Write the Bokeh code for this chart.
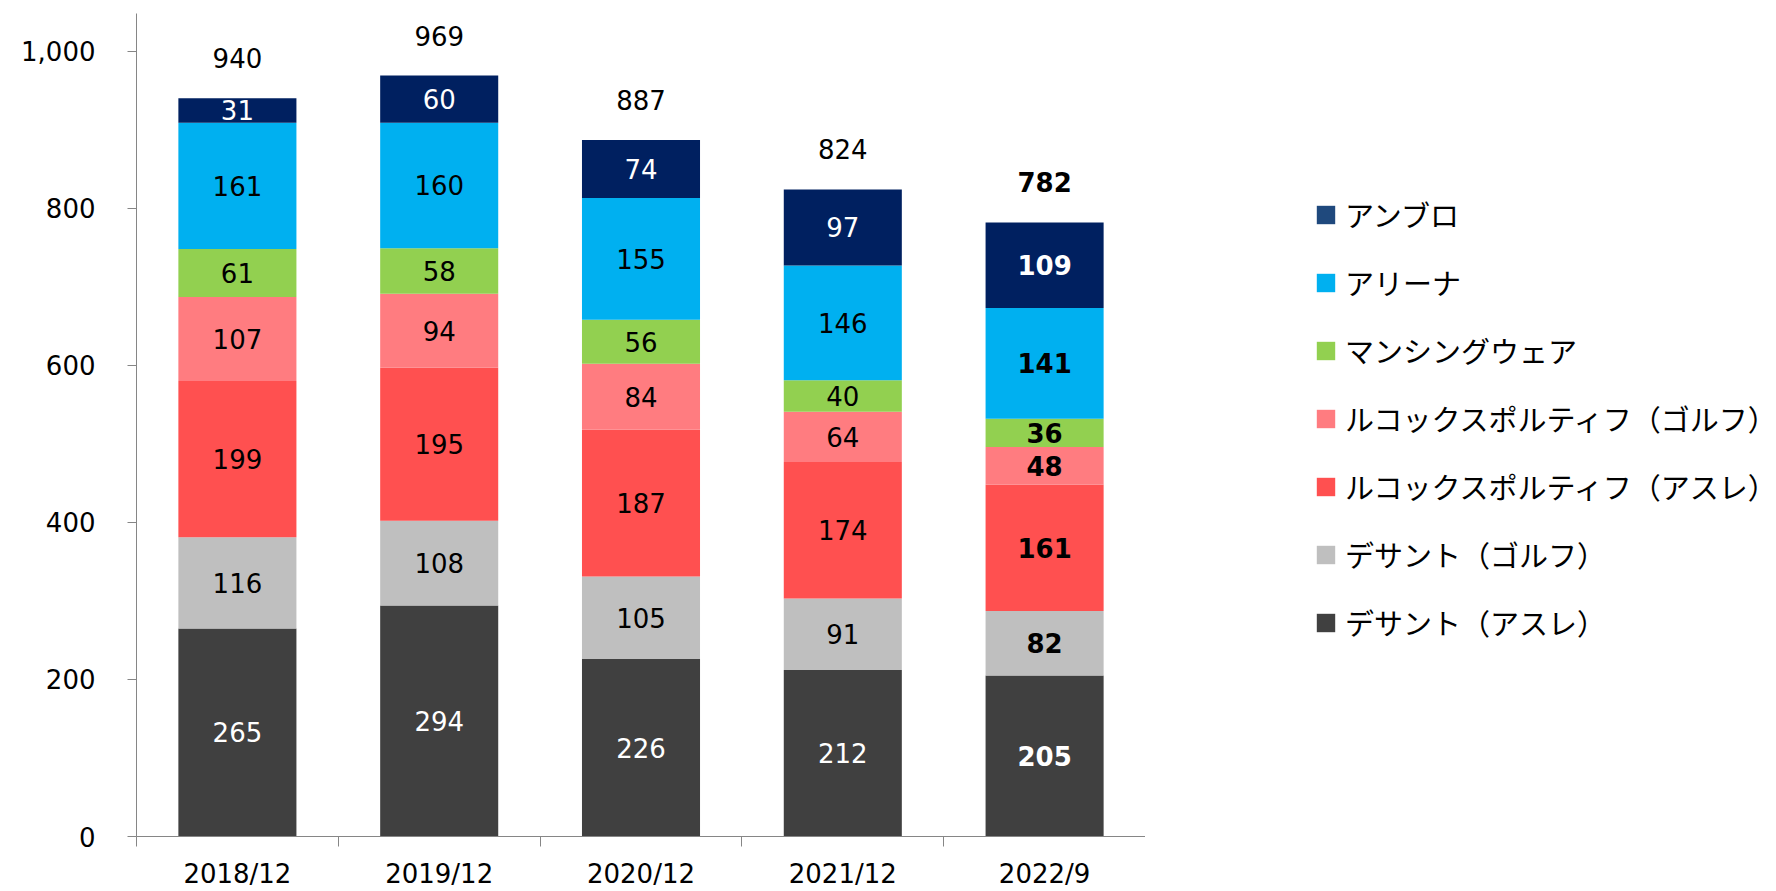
import numpy as np
from bokeh.plotting import figure
from bokeh.layouts import row
from bokeh.models import (ColumnDataSource, Range1d, FixedTicker, NumeralTickFormatter,
                          Legend, LegendItem)
from bokeh.core.properties import value
from bokeh.embed import file_html
from bokeh.resources import INLINE

categories = ["2018/12", "2019/12", "2020/12", "2021/12", "2022/9"]
series_names = ["デサント（アスレ）", "デサント（ゴルフ）", "ルコックスポルティフ（アスレ）",
                "ルコックスポルティフ（ゴルフ）", "マンシングウェア", "アリーナ", "アンブロ"]
descente_athle = [265, 294, 226, 212, 205]
descente_golf = [116, 108, 105, 91, 82]
lecoq_athle = [199, 195, 187, 174, 161]
lecoq_golf = [107, 94, 84, 64, 48]
munsingwear = [61, 58, 56, 40, 36]
arena = [161, 160, 155, 146, 141]
umbro = [31, 60, 74, 97, 109]
totals = [940, 969, 887, 824, 782]
y_ticks = [0, 200, 400, 600, 800, 1000]

series_values = [descente_athle, descente_golf, lecoq_athle, lecoq_golf, munsingwear, arena, umbro]
bar_colors = ["#404040", "#BFBFBF", "#FF5050", "#FF7C80", "#92D050", "#00B0F0", "#002060"]
legend_colors = ["#404040", "#BFBFBF", "#FF5050", "#FF7C80", "#92D050", "#00B0F0", "#1F497D"]
label_colors = ["#FFFFFF", "#000000", "#000000", "#000000", "#000000", "#000000", "#FFFFFF"]

NUM_FONT = "DejaVu Sans"
JP_FONT = "Noto Sans CJK JP"

p = figure(width=1145, height=891, output_backend="svg", toolbar_location=None,
           x_range=Range1d(-0.5, 4.5), y_range=Range1d(0, 1048),
           min_border_left=136, min_border_top=13, min_border_bottom=55, min_border_right=0)
p.outline_line_color = None
p.grid.visible = False
p.background_fill_color = "white"

xs = list(range(len(categories)))
bottom = np.zeros(len(categories))
bar_w = 0.585
for vals, col, lcol in zip(series_values, bar_colors, label_colors):
    v = np.array(vals, dtype=float)
    top = bottom + v
    src = ColumnDataSource(dict(
        x=xs, bottom=bottom.copy(), top=top.copy(), mid=(bottom + top) / 2,
        txt=[str(a) for a in vals],
        style=["bold" if c == "2022/9" else "normal" for c in categories]))
    p.vbar(x="x", bottom="bottom", top="top", width=bar_w, source=src,
           fill_color=col, line_color=None)
    p.text(x="x", y="mid", text="txt", source=src, text_align="center",
           text_baseline="middle", text_font=value(NUM_FONT), text_font_size="26px",
           text_color=lcol, text_font_style="style")
    bottom = top

tsrc = ColumnDataSource(dict(x=xs, y=totals, txt=[str(t) for t in totals],
                             style=["bold" if c == "2022/9" else "normal" for c in categories]))
p.text(x="x", y="y", text="txt", source=tsrc, y_offset=-40, text_align="center",
       text_baseline="middle", text_font=value(NUM_FONT), text_font_size="26px",
       text_color="#000000", text_font_style="style")

# y axis
ya = p.yaxis[0]
ya.ticker = FixedTicker(ticks=y_ticks)
ya.formatter = NumeralTickFormatter(format="0,0")
ya.axis_line_color = "#868686"
ya.major_tick_line_color = "#868686"
ya.major_tick_out = 9
ya.major_tick_in = 0
ya.minor_tick_line_color = None
ya.major_label_standoff = 32
ya.major_label_text_font = NUM_FONT
ya.major_label_text_font_size = "26px"
ya.major_label_text_color = "#000000"

# x axis
xa = p.xaxis[0]
xa.ticker = FixedTicker(ticks=xs, minor_ticks=[x - 0.5 for x in xs])
xa.major_label_overrides = {i: c for i, c in enumerate(categories)}
xa.axis_line_color = "#868686"
xa.major_tick_line_color = None
xa.major_tick_out = 0
xa.major_tick_in = 0
xa.minor_tick_line_color = "#868686"
xa.minor_tick_out = 10
xa.minor_tick_in = 0
xa.major_label_standoff = 12
xa.major_label_text_font = NUM_FONT
xa.major_label_text_font_size = "26px"
xa.major_label_text_color = "#000000"

# legend panel (separate figure so it is not clipped by the plot frame)
pl = figure(width=631, height=891, output_backend="svg", toolbar_location=None,
            x_range=Range1d(0, 1), y_range=Range1d(0, 1),
            min_border_left=0, min_border_right=0, min_border_top=0, min_border_bottom=0)
pl.axis.visible = False
pl.grid.visible = False
pl.outline_line_color = None
items = []
for name, lc in zip(series_names, legend_colors):
    r = pl.vbar(x=[float("nan")], top=[float("nan")], width=0.5, fill_color=lc, line_color=None)
    items.append(LegendItem(label=name, renderers=[r]))
items = items[::-1]
legend = Legend(items=items, location=(169, 193), orientation="vertical",
                glyph_width=23, glyph_height=23, label_height=40, spacing=26,
                label_standoff=8, padding=0, margin=0,
                label_text_font=JP_FONT, label_text_font_size="29px",
                label_text_color="#000000", border_line_alpha=0,
                background_fill_alpha=0)
pl.add_layout(legend, "center")

layout = row(p, pl, spacing=0)
open("out.html", "w").write(file_html(layout, INLINE))
